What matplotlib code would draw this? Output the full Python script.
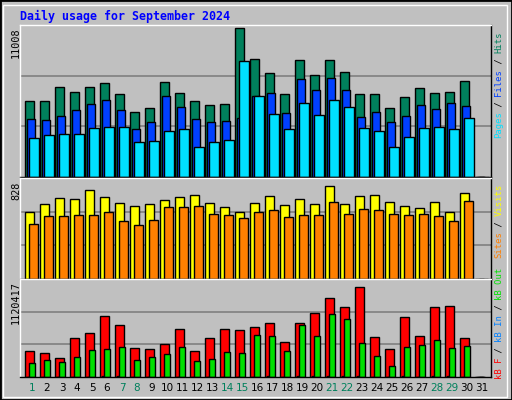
import numpy as np
import matplotlib
matplotlib.use("Agg")
import matplotlib.pyplot as plt

days = np.arange(1, 32)
weekend = [1, 7, 8, 14, 15, 21, 22, 28, 29]

# Pages / Files / Hits (day 31 empty)
hits = [5617, 5617, 6664, 6291, 6664, 6965, 6140, 4793, 5093, 7040, 6216, 5617, 5317, 5392, 11008,
        8686, 7714, 6140, 8612, 7565, 8612, 7790, 6140, 6140, 5093, 5917, 6590, 6216, 6291, 7115, 0]
files = [4270, 4195, 4494, 4943, 5393, 5692, 4943, 3520, 4045, 5992, 5168, 4270, 4045, 4120, 4344,
         5992, 6217, 4719, 7265, 6441, 7340, 6441, 4419, 4794, 4045, 4494, 5318, 5018, 5468, 5243, 0]
pages = [2846, 3071, 3146, 3146, 3595, 3670, 3670, 2622, 2696, 3371, 3520, 2247, 2622, 2771, 8539,
         5992, 4644, 3520, 5468, 4569, 5692, 5168, 3595, 3371, 2247, 2921, 3595, 3670, 3520, 4344, 0]
# Visits / Sites
visits = [595, 667, 720, 711, 792, 729, 675, 648, 667, 702, 729, 747, 675, 640, 595,
          675, 738, 657, 711, 667, 828, 667, 738, 747, 684, 648, 631, 684, 595, 765, 0]
sites = [487, 559, 559, 568, 568, 595, 514, 478, 523, 640, 640, 649, 577, 568, 541,
         595, 613, 550, 568, 568, 684, 577, 622, 613, 577, 568, 577, 559, 514, 693, 0]
# kB F / kB In / kB Out
kb_f = [326, 302, 241, 485, 546, 766, 644, 363, 351, 412, 595, 326, 485, 595, 583,
        619, 668, 436, 668, 803, 986, 876, 1120.417, 497, 351, 754, 509, 876, 888, 485, 0]
kb_out = [180, 216, 192, 253, 338, 351, 375, 216, 253, 290, 375, 204, 228, 314, 302,
          522, 509, 326, 644, 509, 790, 717, 424, 265, 143, 375, 400, 461, 363, 387, 0]
kb_f = [v * 1000 for v in kb_f]
kb_out = [v * 1000 for v in kb_out]
kb_in = [v * 0.01 for v in kb_f]

BG = "#C0C0C0"
W, H = 512, 400
fig = plt.figure(figsize=(5.12, 4.0), dpi=100, facecolor=BG)
fig.patches.append(plt.Rectangle((0, 0), 1, 1, transform=fig.transFigure, fill=False,
                                 edgecolor="black", lw=2))
fig.patches.append(plt.Rectangle((3 / W, 3 / H), 1 - 8 / W, 1 - 8 / H, transform=fig.transFigure,
                                 fill=False, edgecolor="white", lw=1))


def panel(top, bottom):
    ax = fig.add_axes([20 / W, 1 - bottom / H, (491 - 20) / W, (bottom - top) / H])
    ax.set_facecolor(BG)
    ax.set_xlim(1 - 5 / 15, 1 + (491 - 25) / 15)
    ax.set_xticks([])
    ax.set_yticks([])
    for s in ax.spines.values():
        s.set_color("black")
        s.set_linewidth(1)
    ax.spines["left"].set_color("white")
    ax.spines["top"].set_color("white")
    return ax


def grid(ax, ymax):
    for f in (1 / 3, 2 / 3):
        ax.axhline(ymax * f, color="#808080", lw=1.2, zorder=0)


kw = dict(align="edge", edgecolor="black", linewidth=1)

ax1 = panel(25, 177)
ymax1 = 11008 * 150 / 147
ax1.set_ylim(0, ymax1)
grid(ax1, ymax1)
ax1.bar(days, hits, width=0.6, color="#00805C", **kw)
ax1.bar(days + 2 / 15, files, width=0.55, color="#0040FF", **kw)
ax1.bar(days + 4 / 15, pages, width=0.67, color="#00E0FF", **kw)

ax2 = panel(178, 279)
ymax2 = 828 / 0.924
ax2.set_ylim(0, ymax2)
grid(ax2, ymax2)
ax2.bar(days, visits, width=0.6, color="#FFFF00", **kw)
ax2.bar(days + 4 / 15, sites, width=0.6, color="#FF8000", **kw)

ax3 = panel(279, 377)
ymax3 = 1120417 / 0.917
ax3.set_ylim(0, ymax3)
grid(ax3, ymax3)
ax3.bar(days, kb_f, width=0.6, color="#FF0000", **kw)
ax3.bar(days + 2 / 15, kb_in, width=0.4, color="#0080FF", **kw)
ax3.bar(days + 4 / 15, kb_out, width=0.4, color="#00E000", **kw)

mono = "DejaVu Sans Mono"
fig.text(20 / W, 1 - 16 / H, "Daily usage for September 2024", color="#0000FF", family=mono,
         weight="bold", fontsize=8.4, va="center", ha="left")

for txt, ytop in (("11008", 27), ("828", 182), ("1120417", 281)):
    fig.text(16 / W, 1 - ytop / H, txt, rotation=90, family=mono, fontsize=7.3,
             ha="center", va="top")


def legend(pieces, ybottom):
    y = ybottom
    ch = 5.3
    for txt, col in pieces:
        fig.text(499 / W, 1 - y / H, txt, rotation=90, family=mono, fontsize=6.4, color=col,
                 ha="center", va="bottom")
        y -= ch * len(txt)


legend([("Pages", "#00E0FF"), (" / ", "black"), ("Files", "#0040FF"), (" / ", "black"),
        ("Hits", "#00805C")], 138)
legend([("Sites", "#FF8000"), (" / ", "black"), ("Visits", "#FFFF00")], 258)
legend([("kB F", "#FF0000"), (" / ", "black"), ("kB In", "#0080FF"), (" / ", "black"),
        ("kB Out", "#00E000")], 379)

for d in days:
    fig.text((25 + 15 * (d - 1) + 7) / W, 1 - 388 / H, str(d), fontsize=7.5, ha="center",
             va="center", color="#00805C" if d in weekend else "black")

fig.savefig("out.png", dpi=100, facecolor=BG)
